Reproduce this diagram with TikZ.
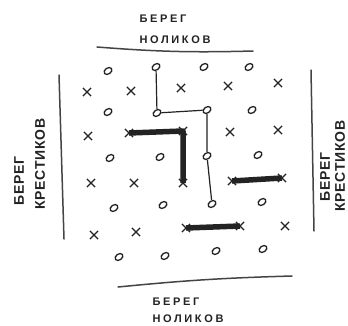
\documentclass[tikz,border=0pt]{standalone}
\usepackage{fontspec}
\setmainfont{Liberation Sans}
\usetikzlibrary{shapes.geometric,shapes.misc}
\definecolor{inkc}{RGB}{35,35,35}
\begin{document}
\begin{tikzpicture}[x=1pt,y=-1pt,
  nol/.style={ellipse, draw=inkc, line width=1.3pt, minimum width=8.5pt, minimum height=6pt, inner sep=0pt, rotate=35},
  kre/.style={cross out, draw=inkc, line width=1.2pt, minimum size=7pt, inner sep=0pt},
  thickbar/.style={draw=inkc, line width=5.5pt, line join=round},
  thinpath/.style={draw=inkc, line width=1.2pt},
  shore/.style={draw=inkc!85, line width=1.5pt, line cap=round},
  lbl/.style={text=inkc, inner sep=0pt},
  small/.style={font=\fontsize{11}{11}\selectfont\bfseries\addfontfeature{LetterSpace=24}},
  big/.style={font=\fontsize{14}{14}\selectfont\bfseries\addfontfeature{LetterSpace=5}}
]
\useasboundingbox[fill=white] (0,0) rectangle (348,325);

% noughts
\node[nol] (o11) at (108,71) {};
\node[nol] (o12) at (156,67) {};
\node[nol] (o13) at (204,67) {};
\node[nol] (o14) at (249,67) {};
\node[nol] (o31) at (108,112) {};
\node[nol] (o32) at (157,113) {};
\node[nol] (o33) at (207,110) {};
\node[nol] (o34) at (252,110) {};
\node[nol] (o51) at (110,158) {};
\node[nol] (o52) at (160,157) {};
\node[nol] (o53) at (207,156) {};
\node[nol] (o54) at (258,155) {};
\node[nol] (o71) at (114,208) {};
\node[nol] (o72) at (163,205) {};
\node[nol] (o73) at (212,204) {};
\node[nol] (o74) at (262,202) {};
\node[nol] (o91) at (119,257) {};
\node[nol] (o92) at (165,256) {};
\node[nol] (o93) at (216,251) {};
\node[nol] (o94) at (263,249) {};

% crosses
\node[kre] (x21) at (87,92) {};
\node[kre] (x22) at (131,91) {};
\node[kre] (x23) at (181,88) {};
\node[kre] (x24) at (228,86) {};
\node[kre] (x25) at (278,83) {};
\node[kre] (x41) at (88,136) {};
\node[kre] (x42) at (129,133) {};
\node[kre] (x43) at (183,131) {};
\node[kre] (x44) at (230,132) {};
\node[kre] (x45) at (278,130) {};
\node[kre] (x61) at (91,183) {};
\node[kre] (x62) at (134,183) {};
\node[kre] (x63) at (183,183) {};
\node[kre] (x64) at (232,181) {};
\node[kre] (x65) at (282,178) {};
\node[kre] (x81) at (94,235) {};
\node[kre] (x82) at (136,232) {};
\node[kre] (x83) at (186,228) {};
\node[kre] (x84) at (240,226) {};
\node[kre] (x85) at (285,226) {};

% bridges of crosses
\draw[thickbar] (x42.center) -- (x43.center) -- (x63.center);
\draw[thickbar] (x64.center) -- (x65.center);
\draw[thickbar] (x83.center) -- (x84.center);

% path of noughts
\draw[thinpath] (o12) -- (o32) -- (o33) -- (o53) -- (o73);

% shores
\coordinate (t1) at (97,47);
\coordinate (t2) at (253,51);
\coordinate (b1) at (118,287);
\coordinate (b2) at (292,276);
\coordinate (l1) at (59,75);
\coordinate (l2) at (64,239);
\coordinate (r1) at (311,70);
\coordinate (r2) at (314,231);
\draw[shore] (t1) to[bend right=3] (t2);
\draw[shore] (b1) to[bend left=2] (b2);
\draw[shore] (l1) -- (l2);
\draw[shore] (r1) -- (r2);

% labels
\node[lbl, small] (ta) at (163,19) {БЕРЕГ};
\node[lbl, small] (tb) at (175,40) {НОЛИКОВ};
\node[lbl, small] (ba) at (176,302) {БЕРЕГ};
\node[lbl, small] (bb) at (188,319) {НОЛИКОВ};
\node[lbl, big, rotate=90] (la) at (19,181) {БЕРЕГ};
\node[lbl, big, rotate=90] (lb) at (40,164) {КРЕСТИКОВ};
\node[lbl, big, rotate=90] (ra) at (325,177) {БЕРЕГ};
\node[lbl, big, rotate=90] (rb) at (340,166) {КРЕСТИКОВ};
\end{tikzpicture}
\end{document}
